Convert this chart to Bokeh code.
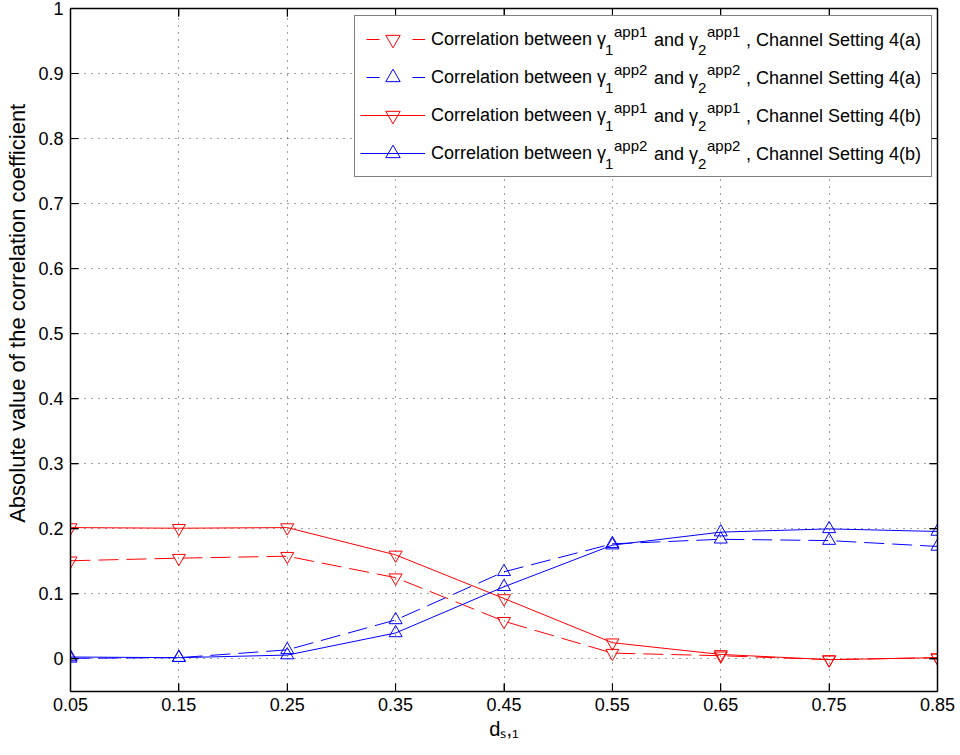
from bokeh.plotting import figure
from bokeh.models import (FixedTicker, LinearAxis, Range1d, Legend, LegendItem,
                          ColumnDataSource)
from bokeh.embed import file_html
from bokeh.resources import INLINE

# ---------------- data ----------------
ds1 = [0.05, 0.15, 0.25, 0.35, 0.45, 0.55, 0.65, 0.75, 0.85]
corr_app1_4a = [0.151, 0.155, 0.158, 0.125, 0.058, 0.009, 0.005, -0.001, 0.002]
corr_app2_4a = [0.001, 0.002, 0.014, 0.060, 0.134, 0.177, 0.184, 0.182, 0.173]
corr_app1_4b = [0.202, 0.201, 0.202, 0.160, 0.093, 0.025, 0.007, -0.001, 0.002]
corr_app2_4b = [0.003, 0.002, 0.006, 0.040, 0.111, 0.175, 0.195, 0.200, 0.196]

x_ticks = [0.05, 0.15, 0.25, 0.35, 0.45, 0.55, 0.65, 0.75, 0.85]
x_tick_labels = ["0.05", "0.15", "0.25", "0.35", "0.45", "0.55", "0.65", "0.75", "0.85"]
y_ticks = [0.0, 0.1, 0.2, 0.3, 0.4, 0.5, 0.6, 0.7, 0.8, 0.9, 1.0]
y_tick_labels = ["0", "0.1", "0.2", "0.3", "0.4", "0.5", "0.6", "0.7", "0.8", "0.9", "1"]

legend_sup = ["app1", "app2", "app1", "app2"]
legend_setting = ["4(a)", "4(a)", "4(b)", "4(b)"]
x_label = "d\u209b,\u2081"          # d_{s,1}
y_label = "Absolute value of the correlation coefficient"

FONT = "Liberation Sans"
NAN = float("nan")
NBSP = "\u00a0"

# ---------------- layout constants ----------------
XMIN, XMAX = 0.05, 0.85
YMIN, YMAX = -0.05, 1.0
FL, FR, FT, FB = 70, 937, 8, 691   # frame edges in pixels
TICK = 8                            # inward tick length in pixels

p = figure(width=960, height=755, output_backend="svg", toolbar_location=None, tools="",
           x_range=Range1d(XMIN, XMAX), y_range=Range1d(YMIN, YMAX),
           min_border_left=FL, min_border_right=960 - FR, min_border_top=FT,
           min_border_bottom=755 - FB)
p.outline_line_color = None
p.background_fill_color = "white"
p.border_fill_color = "white"

p.add_layout(LinearAxis(), "right")
p.add_layout(LinearAxis(), "above")

x_over = {t: l for t, l in zip(x_ticks, x_tick_labels)}
y_over = {t: l for t, l in zip(y_ticks, y_tick_labels)}

for ax in p.xaxis:
    ax.ticker = FixedTicker(ticks=x_ticks)
    ax.major_label_overrides = x_over
for ax in p.yaxis:
    ax.ticker = FixedTicker(ticks=y_ticks)
    ax.major_label_overrides = y_over

for ax in p.axis:
    ax.axis_line_color = "black"
    ax.axis_line_width = 1.5
    ax.major_tick_line_color = "black"
    ax.major_tick_line_width = 1
    ax.major_tick_in = TICK
    ax.major_tick_out = 0
    ax.minor_tick_line_color = None
    ax.major_label_text_font = FONT
    ax.major_label_text_font_size = "18px"
    ax.major_label_text_color = "black"
    ax.axis_label_text_font = FONT
    ax.axis_label_text_font_style = "normal"
    ax.axis_label_text_color = "black"

bx, lx = p.below[0], p.left[0]
bx.major_label_standoff = 6
bx.axis_label = x_label
bx.axis_label_text_font_size = "20px"
bx.axis_label_standoff = 4

lx.major_label_standoff = 7
# leading no-break spaces shift the centred label up, as in the reference
lx.axis_label = NBSP * 12 + y_label
lx.axis_label_text_font_size = "22px"
lx.axis_label_standoff = 5

for ax in (p.right[0], p.above[0]):
    ax.major_label_text_color = None
    ax.major_label_standoff = 0

p.xgrid.ticker = FixedTicker(ticks=x_ticks)
p.ygrid.ticker = FixedTicker(ticks=y_ticks)
for g in (p.xgrid, p.ygrid):
    g.grid_line_color = "black"
    g.grid_line_alpha = 0.75
    g.grid_line_dash = "1 6"
    g.grid_line_width = 1

# inward tick marks on all four sides (MATLAB style), built from the tick lists
tx_len = TICK / (FR - FL) * (XMAX - XMIN)
ty_len = TICK / (FB - FT) * (YMAX - YMIN)
xt = list(x_ticks[1:-1])
yt = list(y_ticks)
ticks_src = ColumnDataSource(dict(
    x0=xt + xt + [XMIN] * len(yt) + [XMAX] * len(yt),
    y0=[YMIN] * len(xt) + [YMAX] * len(xt) + yt + yt,
    x1=xt + xt + [XMIN + tx_len] * len(yt) + [XMAX - tx_len] * len(yt),
    y1=[YMIN + ty_len] * len(xt) + [YMAX - ty_len] * len(xt) + yt + yt,
))
p.segment(x0="x0", y0="y0", x1="x1", y1="y1", source=ticks_src, line_color="black",
          line_width=1)

# ---------------- series ----------------
series = [
    (corr_app1_4a, "red", "20 8", "inverted_triangle"),
    (corr_app2_4a, "blue", "20 8", "triangle"),
    (corr_app1_4b, "red", "solid", "inverted_triangle"),
    (corr_app2_4b, "blue", "solid", "triangle"),
]
items = []
for vals, col, dash, mk in series:
    p.line(ds1, vals, line_color=col, line_width=1, line_dash=dash)
    p.scatter(ds1, vals, marker=mk, size=13, fill_color=None, line_color=col, line_width=1)
    # legend proxies (a single NaN point: nothing drawn in the plot)
    if dash == "solid":
        lp = p.line([NAN], [NAN], line_color=col, line_width=1)
    else:
        lp = p.line([NAN], [NAN], line_color=col, line_width=1, line_dash="13 33",
                    line_dash_offset=40)
    sp = p.scatter([NAN], [NAN], marker=mk, size=14, fill_color=None, line_color=col,
                   line_width=1)
    items.append(LegendItem(label="Correlation between \u03b3", renderers=[lp, sp]))

LEG_L, LEG_T, LEG_B = 354, 17, 177
legend = Legend(items=items, location=(LEG_L - FL, FB - LEG_B), padding=5, spacing=2,
                glyph_width=65, glyph_height=36, label_height=36, label_width=495,
                label_standoff=6, label_text_font=FONT, label_text_font_size="18px",
                label_text_color="black", border_line_color="black", border_line_width=1,
                background_fill_color="white", background_fill_alpha=1.0, margin=0)
p.add_layout(legend)

# invisible proxy used by the text-only legends below
ghost = p.scatter([NAN], [NAN], size=0, fill_alpha=0, line_alpha=0)


def text_legend(labels, left, top, size, row_h=36, spacing=2):
    """Place a column of texts with a glyph-less, border-less legend."""
    its = [LegendItem(label=t, renderers=[ghost]) for t in labels]
    n = len(labels)
    height = n * row_h + (n - 1) * spacing
    lg = Legend(items=its, location=(left - FL, FB - (top + height)), padding=0,
                spacing=spacing, glyph_width=0, glyph_height=row_h, label_height=row_h,
                label_width=1, label_standoff=0, label_text_font=FONT,
                label_text_font_size=f"{size}px", label_text_color="black",
                border_line_color=None, background_fill_alpha=0.0, margin=0)
    p.add_layout(lg)


TOP = LEG_T + 5   # top of first legend row
text_legend(["1"] * 4, 605, TOP + 9, 15)
text_legend(legend_sup, 614, TOP - 9, 15)
text_legend(["and \u03b3"] * 4, 654, TOP, 18)
text_legend(["2"] * 4, 698, TOP + 9, 15)
text_legend(legend_sup, 707, TOP - 9, 15)
text_legend([", Channel Setting " + s for s in legend_setting], 746, TOP, 18)

open("out.html", "w").write(file_html(p, INLINE))
